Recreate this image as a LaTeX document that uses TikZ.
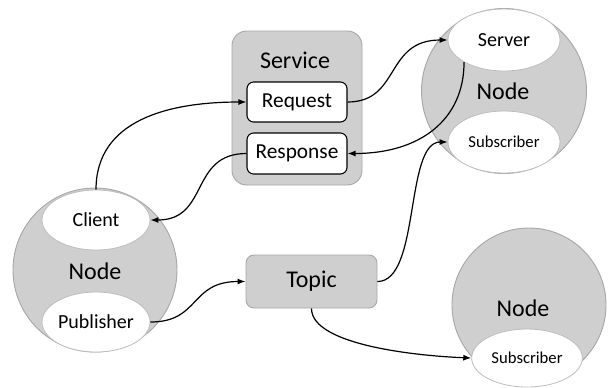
\documentclass[tikz,border=0pt]{standalone}
\usepackage{fontspec}
\setmainfont{Carlito}
\usetikzlibrary{shapes.geometric,arrows.meta}
\definecolor{nodegray}{HTML}{D0CFCF}
\definecolor{edgegray}{HTML}{A8A8A8}
\definecolor{rimgray}{HTML}{BDBDBD}
\tikzset{
  rosnode/.style={circle,fill=nodegray,draw=edgegray,line width=0.7pt,inner sep=0pt},
  port/.style={ellipse,fill=white,draw=rimgray,line width=0.6pt,inner sep=0pt},
  msgbox/.style={rectangle,rounded corners=5pt,fill=white,draw=black,line width=0.8pt,
    minimum width=75pt,minimum height=30pt,inner sep=0pt,font=\fontsize{16}{18}\selectfont},
  graybox/.style={rectangle,fill=nodegray,draw=edgegray,line width=0.7pt,inner sep=0pt},
  biglabel/.style={inner sep=0pt,font=\fontsize{18}{20}\selectfont},
  link/.style={draw=black,line width=0.9pt,-{Latex[length=6pt,width=4.5pt]}}
}
\begin{document}
\begin{tikzpicture}[x=0.75pt,y=-0.75pt]
\useasboundingbox (0,0) rectangle (616,387);

% ROS nodes
\node[rosnode,minimum size=123pt] (nodeL) at (95,270) {};
\node[rosnode,minimum size=123.75pt] (nodeR) at (504,91) {};
\node[rosnode,minimum size=115.5pt] (nodeB) at (529,305) {};

% ports inside the nodes
\node[port,minimum width=81pt,minimum height=45pt,font=\fontsize{15}{17}\selectfont] (client) at (96,220) {Client};
\node[port,minimum width=81pt,minimum height=45pt,font=\fontsize{15}{17}\selectfont] (publisher) at (96,322) {Publisher};
\node[port,minimum width=84pt,minimum height=46.5pt,font=\fontsize{15}{17}\selectfont] (server) at (504,40) {Server};
\node[port,minimum width=84pt,minimum height=46.5pt,font=\fontsize{12.5}{14}\selectfont] (sub1) at (504,142) {Subscriber};
\node[port,minimum width=83pt,minimum height=43.5pt,font=\fontsize{12.5}{14}\selectfont] (sub2) at (527,358) {Subscriber};

\node[biglabel] (labL) at (95,271) {Node};
\node[biglabel] (labR) at (503,91) {Node};
\node[biglabel] (labB) at (523,308) {Node};

% service with request/response
\node[graybox,rounded corners=11pt,minimum width=97.5pt,minimum height=115.5pt] (service) at (297,108) {};
\node[biglabel] (servlab) at (295,60) {Service};
\node[msgbox] (request) at (297,102) {Request};
\node[msgbox,minimum height=30.75pt] (response) at (297,153.5) {Response};

% topic
\node[graybox,rounded corners=6pt,minimum width=98.25pt,minimum height=39.75pt,font=\fontsize{18}{20}\selectfont] (topic) at (311.5,281.5) {Topic};

% connectors
\draw[link] (client.north) .. controls +(0,-70) and +(-77,0) .. (request.west);
\draw[link] (response.west) .. controls +(-57,0) and +(59,0) .. (client.east);
\draw[link] (request.east) .. controls +(53,0) and +(-63,0) .. (server.west);
\draw[link] (server.209) .. controls +(0,58) and +(72,0) .. (response.east);
\draw[link] (publisher.east) .. controls +(50,0) and +(-56,0) .. (topic.west);
\draw[link] (topic.east) .. controls +(43,0) and +(-43,0) .. (sub1.west);
\draw[link] (topic.south) .. controls +(0,37) and +(-52,-2) .. (sub2.west);
\end{tikzpicture}
\end{document}
